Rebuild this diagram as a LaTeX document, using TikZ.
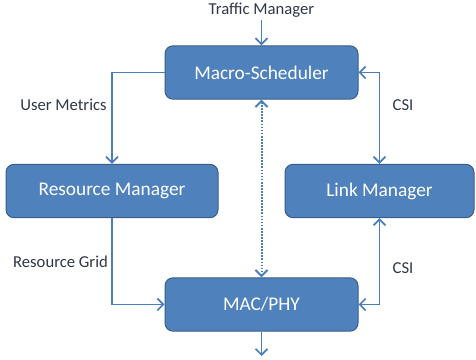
\documentclass[tikz,border=0pt]{standalone}
\usepackage{fontspec}
\setmainfont{Carlito}
\usetikzlibrary{arrows.meta}
\definecolor{boxfill}{RGB}{79,129,189}
\definecolor{boxline}{RGB}{56,93,138}
\definecolor{linkcol}{RGB}{74,126,187}
\definecolor{labelcol}{RGB}{45,55,72}
\tikzset{
  block/.style={draw=boxline, line width=0.75pt, fill=boxfill, rounded corners=6pt,
    minimum height=40pt, text=white, font=\fontsize{14.5}{16}\selectfont, inner sep=0pt},
  link/.style={draw=linkcol, line width=1.3pt, arrows={-Straight Barb[length=4.5pt,width=9pt]}},
  twoway/.style={link, arrows={Straight Barb[length=4.5pt,width=9pt]-Straight Barb[length=4.5pt,width=9pt]}},
  lbl/.style={text=labelcol, font=\fontsize{12.5}{14}\selectfont, inner sep=0pt}
}
\begin{document}
\begin{tikzpicture}[x=0.75pt, y=-0.75pt]
  % bounding box of the page
  \useasboundingbox (0,0) rectangle (476,360);

  % Blocks
  \node[block, minimum width=144.75pt] (macro) at (261.5,72.5) {Macro-Scheduler};
  \node[block, minimum width=159pt] (resmgr) at (112,191) {Resource Manager};
  \node[block, minimum width=141.75pt] (linkmgr) at (379.5,191) {Link Manager};
  \node[block, minimum width=144.75pt] (macphy) at (261.5,304.5) {MAC/PHY};

  % Input and output
  \node[lbl] (traffic) at (261.5,10) {Traffic Manager};
  \coordinate (out) at (261.5,356);
  \draw[link] ([yshift=-2pt]traffic.south) -- (macro.north);
  \draw[link] (macphy.south) -- (out);

  % Connectors
  \draw[twoway, line width=1.5pt, dash pattern=on 1.3pt off 1pt] (macro.south) -- (macphy.north);
  \draw[link] (macro.west) -| (resmgr.north);
  \draw[twoway] (macro.east) -| (linkmgr.north);
  \draw[twoway] (linkmgr.south) |- (macphy.east);
  \draw[link] (resmgr.south) |- (macphy.west);

  % Labels
  \node[lbl] (usermet) at (63.5,105) {User Metrics};
  \node[lbl] (csitop) at (403,105) {CSI};
  \node[lbl] (resgrid) at (60.5,262) {Resource Grid};
  \node[lbl] (csibot) at (403,268) {CSI};
\end{tikzpicture}
\end{document}
